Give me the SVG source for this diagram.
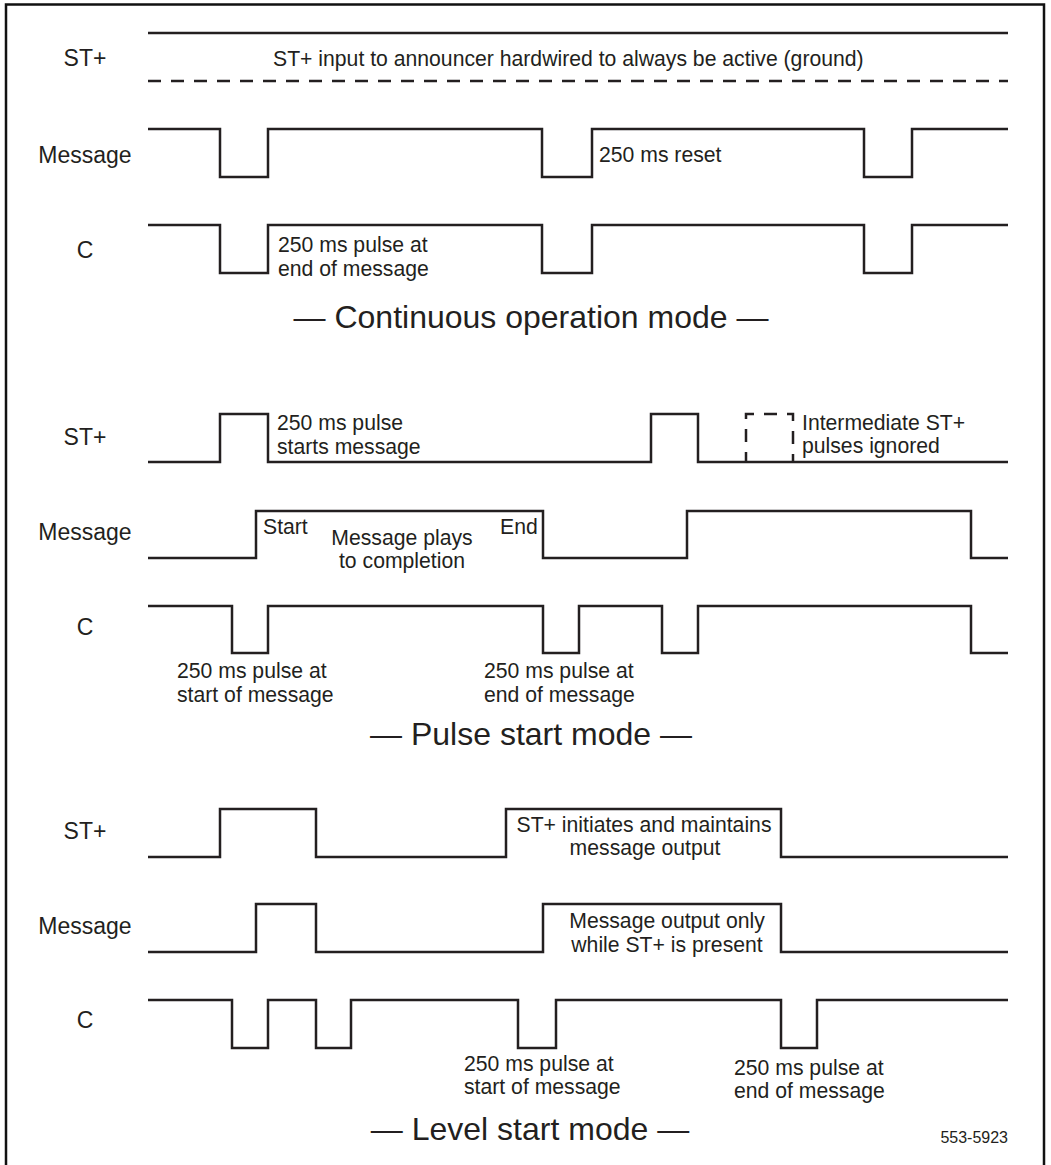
<svg xmlns="http://www.w3.org/2000/svg" width="1051" height="1165" viewBox="0 0 1051 1165">
<style>
.w{fill:none;stroke:#231f20;stroke-width:2.5;stroke-linejoin:miter;stroke-linecap:butt}
.d{stroke-dasharray:13 10}
text{font-family:"Liberation Sans",Arial,sans-serif;fill:#231f20}
.lbl{font-size:23px;text-anchor:middle}
.ann{font-size:21.2px}
.mid{text-anchor:middle}
.ttl{font-size:32px;text-anchor:middle}
.ref{font-size:16px;text-anchor:end}
</style>
<rect x="0" y="0" width="1051" height="1165" fill="#fff"/>
<path d="M6,1170 V4.5 H1044 V1170" fill="none" stroke="#111" stroke-width="2.5"/>

<g id="continuous-mode">
  <g id="c1-st">
    <text class="lbl" x="85" y="66">ST+</text>
    <path class="w" d="M148,33 H1008"/>
    <path class="w d" d="M148,81 H1008"/>
    <text class="ann" x="273" y="66">ST+ input to announcer hardwired to always be active (ground)</text>
  </g>
  <g id="c1-message">
    <text class="lbl" x="85" y="163">Message</text>
    <path class="w" d="M148,129 H220 V177 H268 V129 H542 V177 H592 V129 H864 V177 H912 V129 H1008"/>
    <text class="ann" x="599" y="162">250 ms reset</text>
  </g>
  <g id="c1-c">
    <text class="lbl" x="85" y="258">C</text>
    <path class="w" d="M148,225 H220 V273 H268 V225 H542 V273 H592 V225 H864 V273 H912 V225 H1008"/>
    <text class="ann" x="278" y="252">250 ms pulse at</text>
    <text class="ann" x="278" y="276">end of message</text>
  </g>
  <text class="ttl" x="531" y="328">— Continuous operation mode —</text>
</g>

<g id="pulse-mode">
  <g id="p-st">
    <text class="lbl" x="85" y="445">ST+</text>
    <path class="w" d="M148,462 H220 V414 H268 V462 H651 V414 H698 V462 H1008"/>
    <path class="w d" d="M746,462 V414 H793 V462" stroke-dashoffset="3"/>
    <text class="ann" x="277" y="430">250 ms pulse</text>
    <text class="ann" x="277" y="454">starts message</text>
    <text class="ann" x="802" y="430">Intermediate ST+</text>
    <text class="ann" x="802" y="453">pulses ignored</text>
  </g>
  <g id="p-message">
    <text class="lbl" x="85" y="540">Message</text>
    <path class="w" d="M148,558 H256 V511 H543 V558 H687 V511 H971 V558 H1008"/>
    <text class="ann" x="263" y="534">Start</text>
    <text class="ann" x="500" y="534">End</text>
    <text class="ann mid" x="402" y="545">Message plays</text>
    <text class="ann mid" x="402" y="568">to completion</text>
  </g>
  <g id="p-c">
    <text class="lbl" x="85" y="635">C</text>
    <path class="w" d="M148,606 H232 V653 H268 V606 H543 V653 H579 V606 H662 V653 H698 V606 H971 V653 H1008"/>
    <text class="ann" x="177" y="678">250 ms pulse at</text>
    <text class="ann" x="177" y="702">start of message</text>
    <text class="ann" x="484" y="678">250 ms pulse at</text>
    <text class="ann" x="484" y="702">end of message</text>
  </g>
  <text class="ttl" x="531" y="745">— Pulse start mode —</text>
</g>

<g id="level-mode">
  <g id="l-st">
    <text class="lbl" x="85" y="839">ST+</text>
    <path class="w" d="M148,857 H220 V809 H316 V857 H506 V809 H781 V857 H1008"/>
    <text class="ann mid" x="644" y="832">ST+ initiates and maintains</text>
    <text class="ann mid" x="645" y="855">message output</text>
  </g>
  <g id="l-message">
    <text class="lbl" x="85" y="934">Message</text>
    <path class="w" d="M148,952 H256 V904 H316 V952 H543 V904 H781 V952 H1008"/>
    <text class="ann mid" x="667" y="928">Message output only</text>
    <text class="ann mid" x="667" y="952">while ST+ is present</text>
  </g>
  <g id="l-c">
    <text class="lbl" x="85" y="1028">C</text>
    <path class="w" d="M148,1000 H232 V1048 H268 V1000 H316 V1048 H351 V1000 H518 V1048 H556 V1000 H781 V1048 H817 V1000 H1008"/>
    <text class="ann" x="464" y="1071">250 ms pulse at</text>
    <text class="ann" x="464" y="1094">start of message</text>
    <text class="ann" x="734" y="1075">250 ms pulse at</text>
    <text class="ann" x="734" y="1098">end of message</text>
  </g>
  <text class="ttl" x="530" y="1140">— Level start mode —</text>
</g>

<g id="connectors"></g>
<text class="ref" x="1008" y="1143">553-5923</text>
</svg>
